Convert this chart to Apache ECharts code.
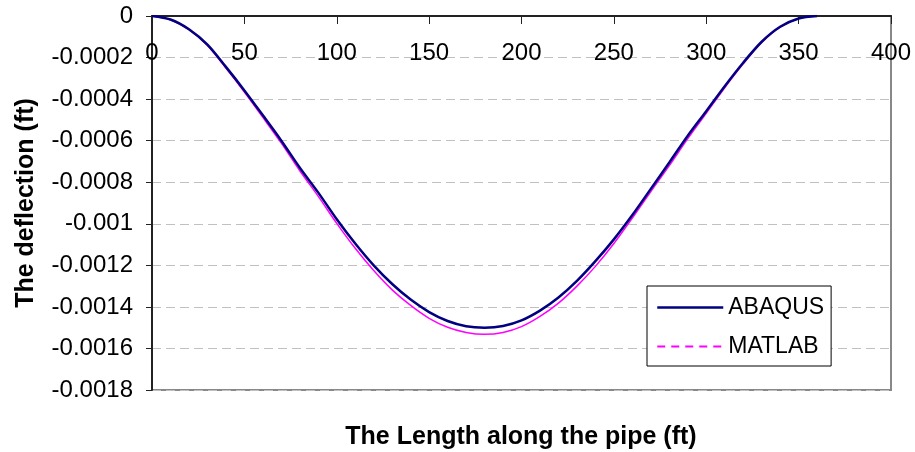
<!DOCTYPE html>
<html>
<head>
<meta charset="utf-8">
<script src="https://cdn.jsdelivr.net/npm/echarts@6/dist/echarts.min.js"></script>
<style>
html,body{margin:0;padding:0;background:#fff;}
#chart{width:915px;height:452px;}
</style>
</head>
<body>
<div id="chart"></div>
<script>
// Length along the pipe (ft)
const lengthFt = [0,10,20,30,40,50,60,70,80,90,100,110,120,130,140,150,160,170,180,
                  190,200,210,220,230,240,250,260,270,280,290,300,310,320,330,340,350,360];
// Deflection (ft)
const abaqus = [0,-0.000017,-0.000064,-0.000138,-0.000245,-0.000358,-0.000478,-0.000600,-0.000730,-0.000850,
                -0.000978,-0.001095,-0.001200,-0.001290,-0.001365,-0.001425,-0.001468,-0.001493,-0.001500,
                -0.001492,-0.001465,-0.001418,-0.001355,-0.001275,-0.001180,-0.001075,-0.000958,-0.000832,
                -0.000705,-0.000576,-0.000458,-0.000338,-0.000225,-0.000124,-0.000052,-0.000012,0];
const matlab = [0,-0.000018,-0.000066,-0.000142,-0.000251,-0.000366,-0.000488,-0.000612,-0.000745,-0.000868,
                -0.000998,-0.001118,-0.001225,-0.001318,-0.001393,-0.001455,-0.001498,-0.001523,-0.001532,
                -0.001523,-0.001495,-0.001446,-0.001382,-0.001300,-0.001205,-0.001095,-0.000972,-0.000845,
                -0.000720,-0.000590,-0.000468,-0.000345,-0.000230,-0.000127,-0.000053,-0.000012,0];
const seriesNames = ['ABAQUS','MATLAB'];
const xTickLabels = ['0','50','100','150','200','250','300','350','400'];
const yTickLabels = ['0','-0.0002','-0.0004','-0.0006','-0.0008','-0.001','-0.0012','-0.0014','-0.0016','-0.0018'];
const xTitle = 'The Length along the pipe (ft)';
const yTitle = 'The deflection (ft)';

const FONT = "'Liberation Sans', Arial, sans-serif";
const chart = echarts.init(document.getElementById('chart'), null, {renderer:'canvas'});
const option = {
  animation: false,
  backgroundColor: '#ffffff',
  textStyle: {fontFamily: FONT, color: '#000'},
  grid: {left: 152, top: 16, right: 24, bottom: 62, show: true, borderColor: '#888888', borderWidth: 2, backgroundColor: 'transparent'},
  title: {
    text: xTitle, left: 521, top: 425, textAlign: 'center', padding: 0,
    textStyle: {fontFamily: FONT, fontSize: 25, fontWeight: 'bold', color: '#000'}
  },
  legend: {
    orient: 'vertical', left: 647, top: 286,
    padding: [10, 7, 8, 9], itemGap: 16, itemWidth: 66, itemHeight: 14,
    borderColor: '#000', borderWidth: 1, backgroundColor: '#fff', borderRadius: 0,
    textStyle: {fontFamily: FONT, fontSize: 23, color: '#000'},
    data: [
      {name: seriesNames[0], itemStyle: {opacity: 0}, lineStyle: {color: '#000080', width: 2.5, type: 'solid'}},
      {name: seriesNames[1], itemStyle: {opacity: 0}, lineStyle: {color: '#ff00ff', width: 2, type: [8, 6]}}
    ]
  },
  xAxis: {
    type: 'value', position: 'top', min: 0, max: 400, interval: 50,
    axisLine: {show: true, onZero: false, lineStyle: {color: '#222', width: 2}},
    axisTick: {show: true, inside: true, length: 8, lineStyle: {color: '#222', width: 1}},
    axisLabel: {inside: true, margin: 25, fontFamily: FONT, fontSize: 24, color: '#000',
      formatter: v => xTickLabels[Math.round(v / 50)]},
    splitLine: {show: false}
  },
  yAxis: {
    type: 'value', min: -0.0018, max: 0, interval: 0.0002,
    name: yTitle, nameLocation: 'middle', nameGap: 113,
    nameTextStyle: {fontFamily: FONT, fontSize: 25, fontWeight: 'bold', color: '#000'},
    axisLine: {show: true, onZero: false, lineStyle: {color: '#222', width: 2}},
    axisTick: {show: true, inside: false, length: 6, lineStyle: {color: '#222', width: 1}},
    axisLabel: {margin: 19, fontFamily: FONT, fontSize: 24, color: '#000',
      formatter: v => yTickLabels[Math.round(-v / 0.0002)]},
    splitLine: {show: true, lineStyle: {color: '#c0c0c0', width: 1, type: [9, 5]}}
  },
  series: [
    {
      name: seriesNames[0], type: 'line', showSymbol: false, symbol: 'none',
      smooth: 0.3, z: 3,
      data: lengthFt.map((x, i) => [x, abaqus[i]]),
      lineStyle: {color: '#000080', width: 2.5}, itemStyle: {color: '#000080'}
    },
    {
      name: seriesNames[1], type: 'line', showSymbol: false, symbol: 'none',
      smooth: 0.3, z: 2,
      data: lengthFt.map((x, i) => [x, matlab[i]]),
      lineStyle: {color: '#ff00ff', width: 1.5}, itemStyle: {color: '#ff00ff'}
    }
  ]
};
chart.setOption(option);
</script>
</body>
</html>
